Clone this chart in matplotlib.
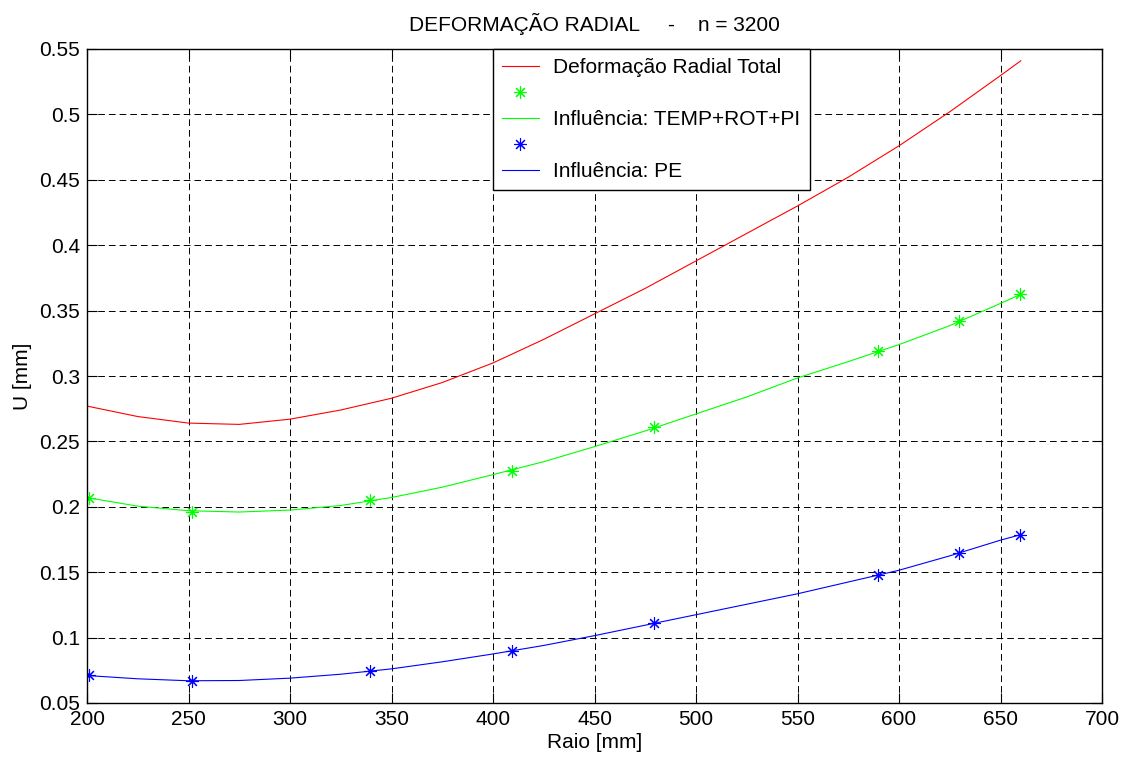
import matplotlib
matplotlib.use("Agg")
import matplotlib.pyplot as plt
from matplotlib.lines import Line2D
from matplotlib.ticker import FuncFormatter

plt.rcParams['font.family'] = ['Liberation Sans', 'DejaVu Sans']

# curves (x = raio [mm], y = U [mm])
raio = [200, 225, 250, 275, 300, 325, 350, 375, 400, 425, 450, 475,
        500, 525, 550, 575, 600, 625, 650, 660]
u_total = [0.277, 0.269, 0.264, 0.263, 0.267, 0.274, 0.283, 0.295, 0.310, 0.328,
           0.3475, 0.367, 0.388, 0.409, 0.430, 0.452, 0.476, 0.502, 0.5297, 0.541]
u_temp = [0.207, 0.2005, 0.197, 0.196, 0.1975, 0.201, 0.2071, 0.215, 0.2246, 0.2345,
          0.246, 0.258, 0.271, 0.284, 0.2985, 0.311, 0.324, 0.3385, 0.3555, 0.3625]
u_pe = [0.071, 0.0685, 0.067, 0.0672, 0.069, 0.072, 0.0761, 0.0815, 0.0875, 0.094,
        0.1015, 0.1095, 0.1175, 0.1255, 0.1335, 0.1425, 0.1515, 0.1625, 0.1745, 0.1787]

# measured points (asterisks)
raio_pts = [201, 251.5, 339.5, 409.5, 479.5, 589.5, 629.5, 659.5]
temp_pts = [0.207, 0.196, 0.2052, 0.2274, 0.2613, 0.3188, 0.3421, 0.3625]
pe_pts = [0.0715, 0.0668, 0.0747, 0.0898, 0.111, 0.1477, 0.165, 0.1787]

x_ticks = [200, 250, 300, 350, 400, 450, 500, 550, 600, 650, 700]
y_ticks = [0.05, 0.1, 0.15, 0.2, 0.25, 0.3, 0.35, 0.4, 0.45, 0.5, 0.55]

RED, GREEN, BLUE = '#ff0000', '#00ff00', '#0000ff'
ast = (8, 2, 0)  # matlab-like asterisk
FS = 15

fig = plt.figure(figsize=(11.3, 7.6), dpi=100)
ax = fig.add_axes([87 / 1130, 57 / 760, 1015 / 1130, 654 / 760])

ax.plot(raio, u_total, color=RED, lw=0.8)
ax.plot(raio_pts, temp_pts, ls='none', marker=ast, ms=9, mew=0.8, color=GREEN)
ax.plot(raio, u_temp, color=GREEN, lw=0.8)
ax.plot(raio_pts, pe_pts, ls='none', marker=ast, ms=9, mew=0.8, color=BLUE)
ax.plot(raio, u_pe, color=BLUE, lw=0.8)

ax.set_xlim(200, 700)
ax.set_ylim(0.05, 0.55)
ax.set_xticks(x_ticks)
ax.set_yticks(y_ticks)
ax.yaxis.set_major_formatter(FuncFormatter(lambda v, p: f"{v:g}"))
ax.tick_params(direction='in', length=7, width=0.8, top=True, right=True,
               labelsize=FS, pad=5)
for s in ax.spines.values():
    s.set_linewidth(1.0)

ax.grid(True, color='black', ls=(0, (6.9, 4.1)), lw=0.7)
ax.set_axisbelow(True)

ax.set_title("DEFORMAÇÃO RADIAL     -    n = 3200", fontsize=FS, pad=13)
ax.set_xlabel("Raio [mm]", fontsize=FS, labelpad=3)
ax.set_ylabel("U [mm]", fontsize=FS, labelpad=5)

handles = [
    Line2D([], [], color=RED, lw=0.8),
    Line2D([], [], ls='none', marker=ast, ms=9, mew=0.8, color=GREEN),
    Line2D([], [], color=GREEN, lw=0.8),
    Line2D([], [], ls='none', marker=ast, ms=9, mew=0.8, color=BLUE),
    Line2D([], [], color=BLUE, lw=0.8),
]
labels = ["Deformação Radial Total", "", "Influência: TEMP+ROT+PI", "", "Influência: PE"]
leg = ax.legend(handles, labels, loc='upper left', bbox_to_anchor=(0.3997, 1.0),
                borderaxespad=0, fancybox=False, framealpha=1, edgecolor='black',
                fontsize=FS, handlelength=1.76, handletextpad=0.69,
                labelspacing=0.33, borderpad=0.45, numpoints=1)
leg.get_frame().set_linewidth(1.0)

fig.savefig("out.png", dpi=100)
